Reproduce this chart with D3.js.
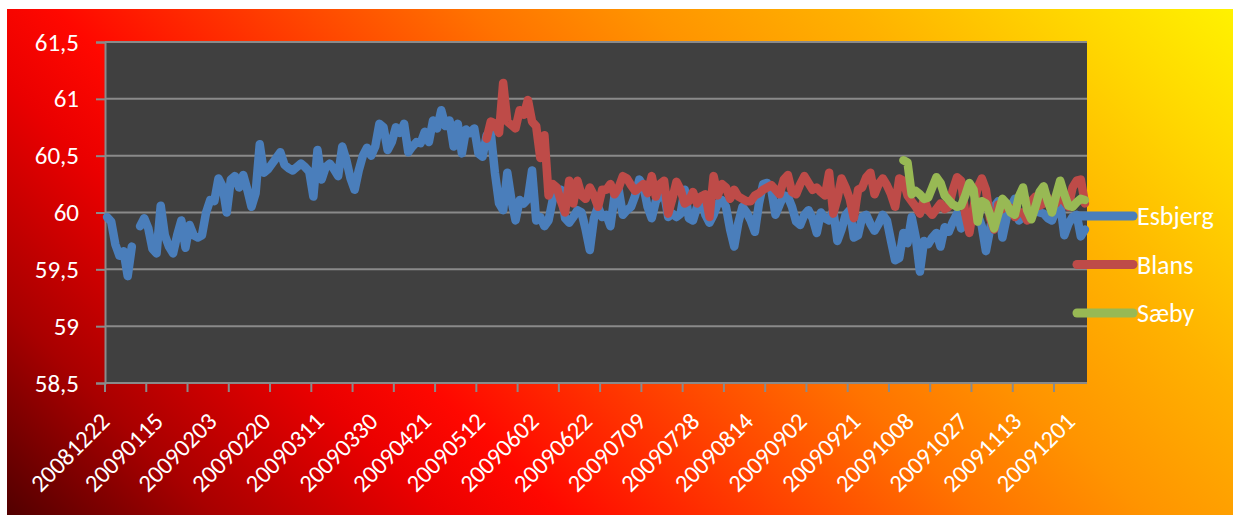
<!DOCTYPE html>
<html>
<head>
<meta charset="utf-8">
<script src="https://cdn.jsdelivr.net/npm/d3@7"></script>
<style>
  html, body { margin: 0; padding: 0; background: #fff; }
  svg { display: block; }
  text { font-family: Carlito, Lato, sans-serif; fill: #fff; }
</style>
</head>
<body>
<div id="chart"></div>
<script>
// every 13th category carries a label
const tickLabels = ["20081222", "20090115", "20090203", "20090220", "20090311", "20090330",
  "20090421", "20090512", "20090602", "20090622", "20090709", "20090728", "20090814",
  "20090902", "20090921", "20091008", "20091027", "20091113", "20091201"];
const labelStep = 13;
const tickStep = 10;

const yTicks = [58.5, 59, 59.5, 60, 60.5, 61, 61.5];

// Esbjerg, one value per category (null = missing)
const esbjerg = [
  59.96, 59.92, 59.72, 59.62, 59.66, 59.44, 59.70, null, 59.88, 59.95,
  59.86, 59.68, 59.64, 60.06, 59.80, 59.70, 59.64, 59.80, 59.93, 59.69,
  59.89, 59.80, 59.78, 59.80, 60.00, 60.11, 60.10, 60.30, 60.23, 60.00,
  60.29, 60.32, 60.22, 60.33, 60.20, 60.05, 60.17, 60.60, 60.35, 60.38,
  60.43, 60.48, 60.53, 60.42, 60.39, 60.37, 60.40, 60.43, 60.40, 60.36,
  60.14, 60.55, 60.29, 60.40, 60.43, 60.38, 60.32, 60.58, 60.46, 60.30,
  60.20, 60.37, 60.50, 60.57, 60.50, 60.58, 60.78, 60.75, 60.55, 60.62,
  60.75, 60.70, 60.78, 60.53, 60.58, 60.62, 60.61, 60.71, 60.62, 60.81,
  60.74, 60.90, 60.76, 60.81, 60.58, 60.78, 60.52, 60.73, 60.70, 60.74,
  60.52, 60.49, 60.68, 60.70, 60.35, 60.08, 60.02, 60.35, 60.11, 59.93,
  60.11, 60.08, 60.12, 60.37, 59.93, 59.96, 59.88, 59.93, 60.11, 60.17,
  60.20, 59.95, 59.91, 59.96, 60.02, 60.00, 59.85, 59.67, 59.95, 60.05,
  59.96, 59.98, 59.88, 60.15, 60.20, 59.98, 60.02, 60.05, 60.15, 60.29,
  60.23, 60.05, 59.95, 60.10, 60.15, 60.17, 59.96, 59.99, 59.96, 59.99,
  60.20, 59.95, 59.93, 60.05, 60.14, 59.98, 59.91, 59.98, 60.08, 60.11,
  60.05, 59.85, 59.70, 59.91, 60.05, 60.00, 59.93, 59.83, 60.08, 60.25,
  60.26, 60.20, 59.98, 60.07, 60.15, 60.14, 60.05, 59.92, 59.89, 59.98,
  60.02, 59.95, 59.82, 60.00, 59.95, 59.93, 60.02, 59.75, 59.85, 59.98,
  60.02, 59.78, 59.80, 59.96, 59.98, 59.90, 59.84, 59.90, 59.98, 59.93,
  59.75, 59.58, 59.60, 59.82, 59.73, 59.96, 59.78, 59.48, 59.75, 59.72,
  59.78, 59.82, 59.70, 59.87, 59.83, 59.92, 59.99, 59.86, 59.90, 59.98,
  60.01, 59.98, 59.88, 59.66, 59.85, 60.05, 60.10, 59.78, 59.95, 60.05,
  60.12, 59.93, 59.96, 60.02, 60.05, 60.02, 60.00, 59.99, 59.95, 59.93,
  60.02, 60.08, 59.80, 59.90, 59.96, 59.98, 59.79, 59.85
];

// Blans starts at category 92
const blansStart = 92;
const blans = [
  60.65, 60.80, 60.78, 60.70, 61.14, 60.80, 60.77, 60.74, 60.90, 60.86,
  60.99, 60.80, 60.76, 60.48, 60.68, 60.15, 60.25, 60.22, 60.10, 60.00,
  60.28, 60.08, 60.28, 60.15, 60.12, 60.22, 60.15, 60.05, 60.20, 60.20,
  60.25, 60.16, 60.22, 60.32, 60.30, 60.24, 60.19, 60.22, 60.25, 60.17,
  60.32, 60.14, 60.25, 60.28, 59.99, 60.12, 60.27, 60.20, 60.08, 60.10,
  60.18, 60.08, 60.14, 60.16, 59.96, 60.32, 60.15, 60.25, 60.22, 60.12,
  60.20, 60.14, 60.12, 60.10, 60.10, 60.15, 60.17, 60.20, 60.22, 60.24,
  60.20, 60.16, 60.29, 60.33, 60.18, 60.16, 60.25, 60.32, 60.26, 60.20,
  60.22, 60.18, 60.15, 60.35, 59.99, 60.12, 60.30, 60.22, 60.12, 59.95,
  60.20, 60.22, 60.31, 60.35, 60.16, 60.25, 60.30, 60.24, 60.16, 60.05,
  60.30, 60.28, 60.15, 60.10, 60.05, 59.99, 60.12, 60.02, 59.98, 60.03,
  60.08, 60.03, 60.05, 60.20, 60.31, 60.28, 59.99, 59.82, 60.05, 60.22,
  60.30, 60.20, 59.95, 59.85, 60.07, 60.03, 60.06, 60.04, 59.96, 60.00,
  60.00, 59.93, 60.10, 60.14, 60.06, 60.08, 60.13, 60.07, 60.08, 60.14,
  60.10, 60.05, 60.22, 60.28, 60.29, 60.08
];

// Sæby starts at category 193
const saebyStart = 193;
const saeby = [
  60.46, 60.44, 60.16, 60.19, 60.16, 60.12, 60.13, 60.22, 60.31, 60.26,
  60.15, 60.11, 60.07, 60.05, 60.06, 60.15, 60.26, 60.20, 59.92, 60.10,
  60.08, 59.98, 59.86, 59.99, 60.12, 60.08, 60.00, 59.98, 60.14, 60.22,
  60.02, 59.94, 60.05, 60.18, 60.23, 60.10, 60.00, 60.15, 60.28, 60.16,
  60.06, 60.05, 60.09, 60.12, 60.11
];

const seriesNames = ["Esbjerg", "Blans", "Sæby"];
const seriesColors = ["#4A7EBB", "#BE4B48", "#98B954"];

const width = 1233, height = 515;
const plot = { left: 105, top: 42, right: 1087, bottom: 383 };

const n = esbjerg.length;
const categories = d3.range(n);

function pad(values, start) {
  return categories.map(i => (i >= start && i - start < values.length) ? values[i - start] : null);
}
const series = [
  { name: seriesNames[0], color: seriesColors[0], values: esbjerg },
  { name: seriesNames[1], color: seriesColors[1], values: pad(blans, blansStart) },
  { name: seriesNames[2], color: seriesColors[2], values: pad(saeby, saebyStart) }
];

const x = d3.scaleBand().domain(categories).range([plot.left, plot.right]).padding(0);
const y = d3.scaleLinear().domain([58.5, 61.5]).range([plot.bottom, plot.top]);

const svg = d3.select("#chart").append("svg")
    .attr("width", width)
    .attr("height", height);

// background gradient, dark red bottom-left to yellow top-right
const grad = svg.append("defs").append("linearGradient")
    .attr("id", "bg")
    .attr("gradientUnits", "userSpaceOnUse")
    .attr("x1", 7).attr("y1", 515)
    .attr("x2", 873).attr("y2", -351);
const stops = [
  [0, "#520000"], [0.12, "#a80000"], [0.25, "#ea0000"], [0.32, "#ff0800"],
  [0.45, "#ff4200"], [0.56, "#ff7200"], [0.66, "#ff9400"], [0.78, "#ffb200"],
  [0.9, "#ffd600"], [1, "#fff200"]
];
grad.selectAll("stop").data(stops).join("stop")
    .attr("offset", d => d[0])
    .attr("stop-color", d => d[1]);

svg.append("rect")
    .attr("x", 7).attr("y", 9)
    .attr("width", width - 7).attr("height", height - 9)
    .attr("fill", "url(#bg)");

svg.append("rect")
    .attr("x", plot.left).attr("y", plot.top)
    .attr("width", plot.right - plot.left).attr("height", plot.bottom - plot.top)
    .attr("fill", "#404040");

// gridlines + y axis
const yAxis = svg.append("g")
    .attr("transform", `translate(${plot.left},0)`)
    .call(d3.axisLeft(y).tickValues(yTicks).tickSize(9).tickPadding(17)
      .tickFormat(d => String(d).replace(".", ",")));
yAxis.select(".domain").attr("stroke", "#8a8a8a").attr("stroke-width", 2);
yAxis.selectAll(".tick line").attr("stroke", "#8a8a8a").attr("stroke-width", 2);
yAxis.selectAll(".tick text")
    .attr("fill", "#fff")
    .style("font-size", "25px")
    .style("font-family", "Carlito, Lato, sans-serif");

svg.append("g").selectAll("line")
  .data(yTicks)
  .join("line")
    .attr("x1", plot.left).attr("x2", plot.right)
    .attr("y1", d => y(d)).attr("y2", d => y(d))
    .attr("stroke", "#8a8a8a").attr("stroke-width", 2);

// x axis: ticks on band edges every 10 categories
const tickCats = categories.filter(i => i % tickStep === 0);
const xg = svg.append("g");
xg.append("line")
    .attr("x1", plot.left).attr("x2", plot.right)
    .attr("y1", plot.bottom).attr("y2", plot.bottom)
    .attr("stroke", "#8a8a8a").attr("stroke-width", 2);
xg.selectAll(".tk").data(tickCats).join("line")
    .attr("class", "tk")
    .attr("x1", d => x(d)).attr("x2", d => x(d))
    .attr("y1", plot.bottom).attr("y2", plot.bottom + 9)
    .attr("stroke", "#8a8a8a").attr("stroke-width", 2);

const labelCats = tickLabels.map((_, i) => i * labelStep);
xg.selectAll(".lbl").data(labelCats).join("text")
    .attr("class", "lbl")
    .attr("text-anchor", "end")
    .attr("transform", d => `translate(${x(d) + x.bandwidth() / 2 + 4},${plot.bottom + 40}) rotate(-45)`)
    .style("font-size", "24.5px")
    .text((d, i) => tickLabels[i]);

// lines
const line = d3.line()
    .defined(d => d != null)
    .x((d, i) => x(i) + x.bandwidth() / 2)
    .y(d => y(d));

svg.append("g").selectAll("path")
  .data(series)
  .join("path")
    .attr("d", d => line(d.values))
    .attr("fill", "none")
    .attr("stroke", d => d.color)
    .attr("stroke-width", 8.5)
    .attr("stroke-linejoin", "round")
    .attr("stroke-linecap", "round");

// legend
const legend = svg.append("g")
  .selectAll("g")
  .data(series)
  .join("g")
    .attr("transform", (d, i) => `translate(1077,${216 + i * 48.5})`);

legend.append("line")
    .attr("x1", 0).attr("x2", 56)
    .attr("stroke", d => d.color)
    .attr("stroke-width", 9)
    .attr("stroke-linecap", "round");

legend.append("text")
    .attr("x", 60)
    .attr("dy", "0.35em")
    .style("font-size", "26px")
    .text(d => d.name);
</script>
</body>
</html>
